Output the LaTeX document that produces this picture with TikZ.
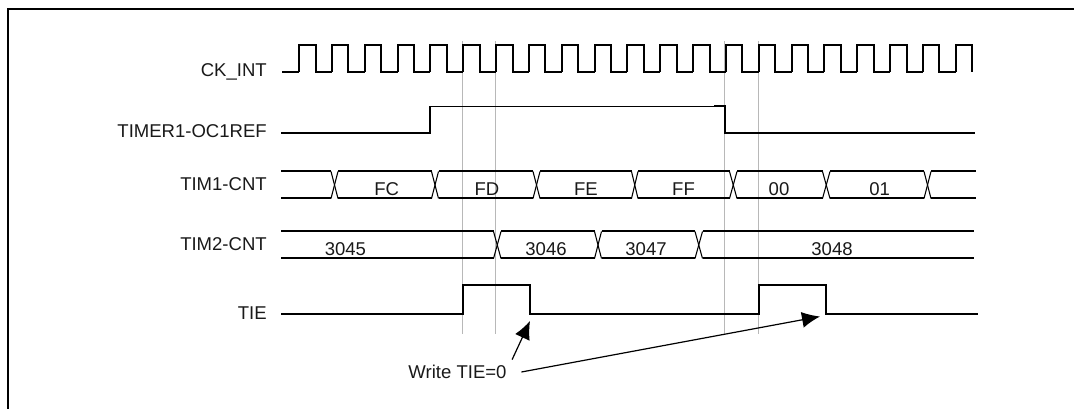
\documentclass[tikz,border=0pt]{standalone}
\usepackage{fontspec}
\setmainfont{Liberation Sans}
\usetikzlibrary{arrows.meta}
\tikzset{
  flowarrow/.style={-{Latex[length=13.5pt,width=12pt]}, line width=0.9pt},
  wave/.style={line width=1.5pt, black},
  wavethin/.style={line width=0.8pt, black},
  crossline/.style={line width=0.8pt, black},
  marker/.style={line width=0.7pt, black!28},
  frameline/.style={line width=2.2pt, black},
  rowlabel/.style={anchor=east, inner sep=0pt},
  datalabel/.style={inner sep=0pt}
}

\begin{document}
\begin{tikzpicture}[x=0.75pt, y=-0.75pt, every node/.style={font=\fontsize{13.9}{16}\selectfont, text=black!90}]
  \useasboundingbox (0,0) rectangle (1074,409);
  \draw[frameline] (8,409) -- (8,9) -- (1074,9);
  % markers
  \foreach \x/\ya in {462.5/41, 495.5/41, 724.5/41, 758.5/41}
    \draw[marker] (\x,\ya) -- (\x,334);
  % row names
  \node[rowlabel] (ckint) at (267,72) {CK\_INT};
  \node[rowlabel] (ocref) at (267,131) {TIMER1-OC1REF};
  \node[rowlabel] (timone) at (267,184) {TIM1-CNT};
  \node[rowlabel] (timtwo) at (267,244) {TIM2-CNT};
  \node[rowlabel] (tie) at (267,313) {TIE};
  % clock
  \draw[wave] (282,72.5) -- (299,72.5);
  \foreach \i in {0,...,19}
    \draw[wave] ({299+32.84*\i},72.5) -- ({299+32.84*\i},45.5) -- ({315.5+32.84*\i},45.5)
      -- ({315.5+32.84*\i},72.5) -- ({331.84+32.84*\i},72.5);
  \draw[wave] (955.8,72.5) -- (955.8,45) -- (972,45) -- (972,72);
  % oc1ref
  \draw[wave] (281,133.5) -- (429.5,133.5) -- (429.5,106.5);
  \draw[wavethin] (429.5,106.5) -- (714,106.5);
  \draw[wave] (714,106.5) -- (725,106.5) -- (725,133.5) -- (975,133.5);
  % tim1 counter
  \foreach \xa/\xb in {281/331, 338/431.5, 438.5/533, 540/631.5, 638/729.5, 737/822.5, 830/924, 931/976} {
    \draw[wave] (\xa,171.5) -- (\xb,171.5);
    \draw[wave] (\xa,198.5) -- (\xb,198.5);
  }
  \foreach \xa/\xb in {331/338, 431.5/438.5, 533/540, 631.5/638, 729.5/737, 822.5/830, 924/931} {
    \draw[crossline] (\xa,171.5) -- (\xb,198.5);
    \draw[crossline] (\xa,198.5) -- (\xb,171.5);
  }
  \node[datalabel] (fc) at (386.7,189) {FC};
  \node[datalabel] (fd) at (487,189) {FD};
  \node[datalabel] (fe) at (586,189) {FE};
  \node[datalabel] (ff) at (683.5,189) {FF};
  \node[datalabel] (zero) at (779,189) {00};
  \node[datalabel] (one) at (879.7,189) {01};
  % tim2 counter
  \foreach \xa/\xb in {281/493.5, 501/594.5, 601.5/695, 702.5/974} {
    \draw[wave] (\xa,231.5) -- (\xb,231.5);
    \draw[wave] (\xa,258.5) -- (\xb,258.5);
  }
  \foreach \xa/\xb in {493.5/501, 594.5/601.5, 695/702.5} {
    \draw[crossline] (\xa,231.5) -- (\xb,258.5);
    \draw[crossline] (\xa,258.5) -- (\xb,231.5);
  }
  \node[datalabel] (cnta) at (345.4,249) {3045};
  \node[datalabel] (cntb) at (546,249) {3046};
  \node[datalabel] (cntc) at (646,249) {3047};
  \node[datalabel] (cntd) at (832,249) {3048};
  % tie
  \draw[wave] (281,314) -- (463,314) -- (463,285.5) -- (530,285.5) -- (530,314) -- (759,314)
    -- (759,285.5) -- (826,285.5) -- (826,314) -- (978,314);
  \node[inner sep=4pt] (write) at (457.5,372) {Write TIE=0};
  \coordinate (clearone) at (530,321);
  \coordinate (cleartwo) at (820,316.5);
  \draw[flowarrow] (write.north east) -- (clearone);
  \draw[flowarrow] ([xshift=7pt]write.east) -- (cleartwo);
\end{tikzpicture}
\end{document}
